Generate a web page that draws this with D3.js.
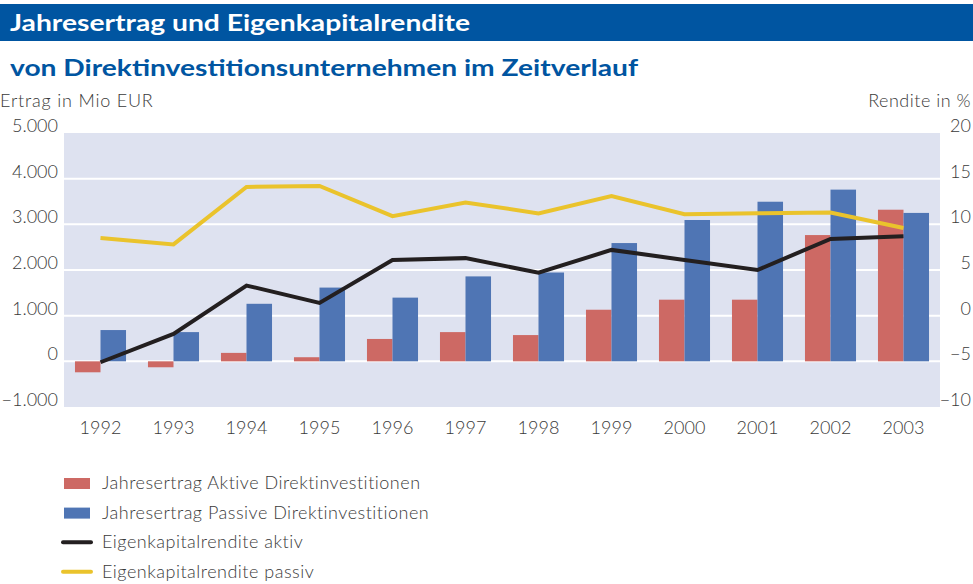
<!DOCTYPE html>
<html>
<head>
<meta charset="utf-8">
<script src="https://cdn.jsdelivr.net/npm/d3@7.9.0/dist/d3.min.js"></script>
<style>
  body { margin: 0; background: #fff; }
  svg { display: block; font-family: Lato, "Open Sans", sans-serif; }
</style>
</head>
<body>
<svg id="chart" width="973" height="584"></svg>
<script>
const years = ["1992","1993","1994","1995","1996","1997","1998","1999","2000","2001","2002","2003"];
// Jahresertrag in Mio EUR
const ertragAktiv  = [-240, -130, 185, 90, 490, 640, 575, 1130, 1350, 1350, 2765, 3320];
const ertragPassiv = [685, 640, 1260, 1615, 1395, 1860, 1945, 2590, 3095, 3495, 3760, 3250];
// Eigenkapitalrendite in %
const renditeAktiv  = [-5.1, -2.0, 3.3, 1.4, 6.1, 6.3, 4.7, 7.2, 6.1, 5.0, 8.4, 8.7];
const renditePassiv = [8.5, 7.8, 14.1, 14.2, 10.9, 12.4, 11.2, 13.1, 11.1, 11.2, 11.3, 9.6];
const leftTicks  = [-1000, 0, 1000, 2000, 3000, 4000, 5000];
const rightTicks = [-10, -5, 0, 5, 10, 15, 20];
const legendItems = [
  { label: "Jahresertrag Aktive Direktinvestitionen", type: "bar", color: "#cd6964" },
  { label: "Jahresertrag Passive Direktinvestitionen", type: "bar", color: "#4f75b4" },
  { label: "Eigenkapitalrendite aktiv", type: "line", color: "#231f20" },
  { label: "Eigenkapitalrendite passiv", type: "line", color: "#eac32c" }
];

const svg = d3.select("#chart");
const fmt = v => (v < 0 ? "\u2212" : "") + d3.format(",")(Math.abs(v)).replace(/,/g, ".");

const plot = { left: 64, right: 940, top: 133, bottom: 407 };

const x = d3.scaleBand().domain(years).range([plot.left, plot.right]).padding(0);
const xSub = d3.scaleBand().domain(["aktiv", "passiv"]).range([0, x.bandwidth()])
  .paddingInner(0).paddingOuter(0.43);
const yL = d3.scaleLinear().domain([-1000, 5000]).range([plot.bottom, plot.top]);
const yR = d3.scaleLinear().domain([-10, 20]).range([plot.bottom, plot.top]);

// header
svg.append("rect").attr("x", 0).attr("y", 4).attr("width", 973).attr("height", 37).attr("fill", "#0055a1");
svg.append("text").attr("x", 10).attr("y", 31)
  .attr("fill", "#fff").attr("font-size", 23).attr("font-weight", 700)
  .attr("textLength", 460).attr("lengthAdjust", "spacingAndGlyphs")
  .text("Jahresertrag und Eigenkapitalrendite");
svg.append("text").attr("x", 10).attr("y", 76)
  .attr("fill", "#0055a1").attr("font-size", 23).attr("font-weight", 700)
  .attr("textLength", 628).attr("lengthAdjust", "spacingAndGlyphs")
  .text("von Direktinvestitionsunternehmen im Zeitverlauf");

// axis titles
svg.append("text").attr("x", 0).attr("y", 107).attr("font-size", 18).attr("font-weight", 300)
  .attr("letter-spacing", 0.8).attr("fill", "#3a3a3a").text("Ertrag in Mio EUR");
svg.append("text").attr("x", 971).attr("y", 107).attr("text-anchor", "end")
  .attr("font-size", 18).attr("font-weight", 300)
  .attr("letter-spacing", 0.5).attr("fill", "#3a3a3a").text("Rendite in %");

// plot background
svg.append("rect").attr("x", plot.left).attr("y", plot.top)
  .attr("width", plot.right - plot.left).attr("height", plot.bottom - plot.top)
  .attr("fill", "#dee2f0");

svg.append("g").selectAll("line")
  .data(leftTicks.filter(d => d > -1000 && d < 5000))
  .join("line")
  .attr("x1", plot.left).attr("x2", plot.right)
  .attr("y1", d => yL(d)).attr("y2", d => yL(d))
  .attr("stroke", "#fff").attr("stroke-width", 2);

// tick labels
svg.append("g").selectAll("text").data(leftTicks).join("text")
  .attr("x", 58).attr("y", d => yL(d) - 1)
  .attr("text-anchor", "end").attr("font-size", 18).attr("font-weight", 300).attr("fill", "#3a3a3a")
  .text(fmt);
svg.append("g").selectAll("text").data(rightTicks).join("text")
  .attr("x", 971).attr("y", d => yR(d) - 1)
  .attr("text-anchor", "end").attr("font-size", 18).attr("font-weight", 300).attr("fill", "#3a3a3a")
  .text(fmt);
svg.append("g").selectAll("text").data(years).join("text")
  .attr("x", d => x(d) + x.bandwidth() / 2).attr("y", 434)
  .attr("text-anchor", "middle").attr("font-size", 18).attr("font-weight", 300).attr("fill", "#3a3a3a")
  .text(d => d);

// bars
const barData = years.flatMap((yr, i) => [
  { year: yr, key: "aktiv", value: ertragAktiv[i], color: legendItems[0].color },
  { year: yr, key: "passiv", value: ertragPassiv[i], color: legendItems[1].color }
]);
svg.append("g").selectAll("rect").data(barData).join("rect")
  .attr("x", d => x(d.year) + xSub(d.key))
  .attr("width", xSub.bandwidth())
  .attr("y", d => yL(Math.max(0, d.value)))
  .attr("height", d => Math.abs(yL(d.value) - yL(0)))
  .attr("fill", d => d.color);

// lines
const line = d3.line()
  .x((d, i) => x(years[i]) + x.bandwidth() / 2)
  .y(d => yR(d));
svg.append("path").datum(renditePassiv).attr("d", line)
  .attr("fill", "none").attr("stroke", legendItems[3].color).attr("stroke-width", 4)
  .attr("stroke-linejoin", "miter");
svg.append("path").datum(renditeAktiv).attr("d", line)
  .attr("fill", "none").attr("stroke", legendItems[2].color).attr("stroke-width", 4)
  .attr("stroke-linejoin", "miter");

// legend
const lg = svg.append("g").selectAll("g").data(legendItems).join("g")
  .attr("transform", (d, i) => `translate(0, ${483 + i * 29.6})`);
lg.filter(d => d.type === "bar").append("rect")
  .attr("x", 64).attr("y", -5).attr("width", 26).attr("height", 11).attr("fill", d => d.color);
lg.filter(d => d.type === "line").append("line")
  .attr("x1", 63).attr("x2", 91).attr("y1", 0).attr("y2", 0)
  .attr("stroke", d => d.color).attr("stroke-width", 4).attr("stroke-linecap", "round");
lg.append("text").attr("x", 102).attr("y", 6)
  .attr("font-size", 18).attr("font-weight", 300).attr("letter-spacing", 0.5).attr("fill", "#3a3a3a")
  .text(d => d.label);
</script>
</body>
</html>
